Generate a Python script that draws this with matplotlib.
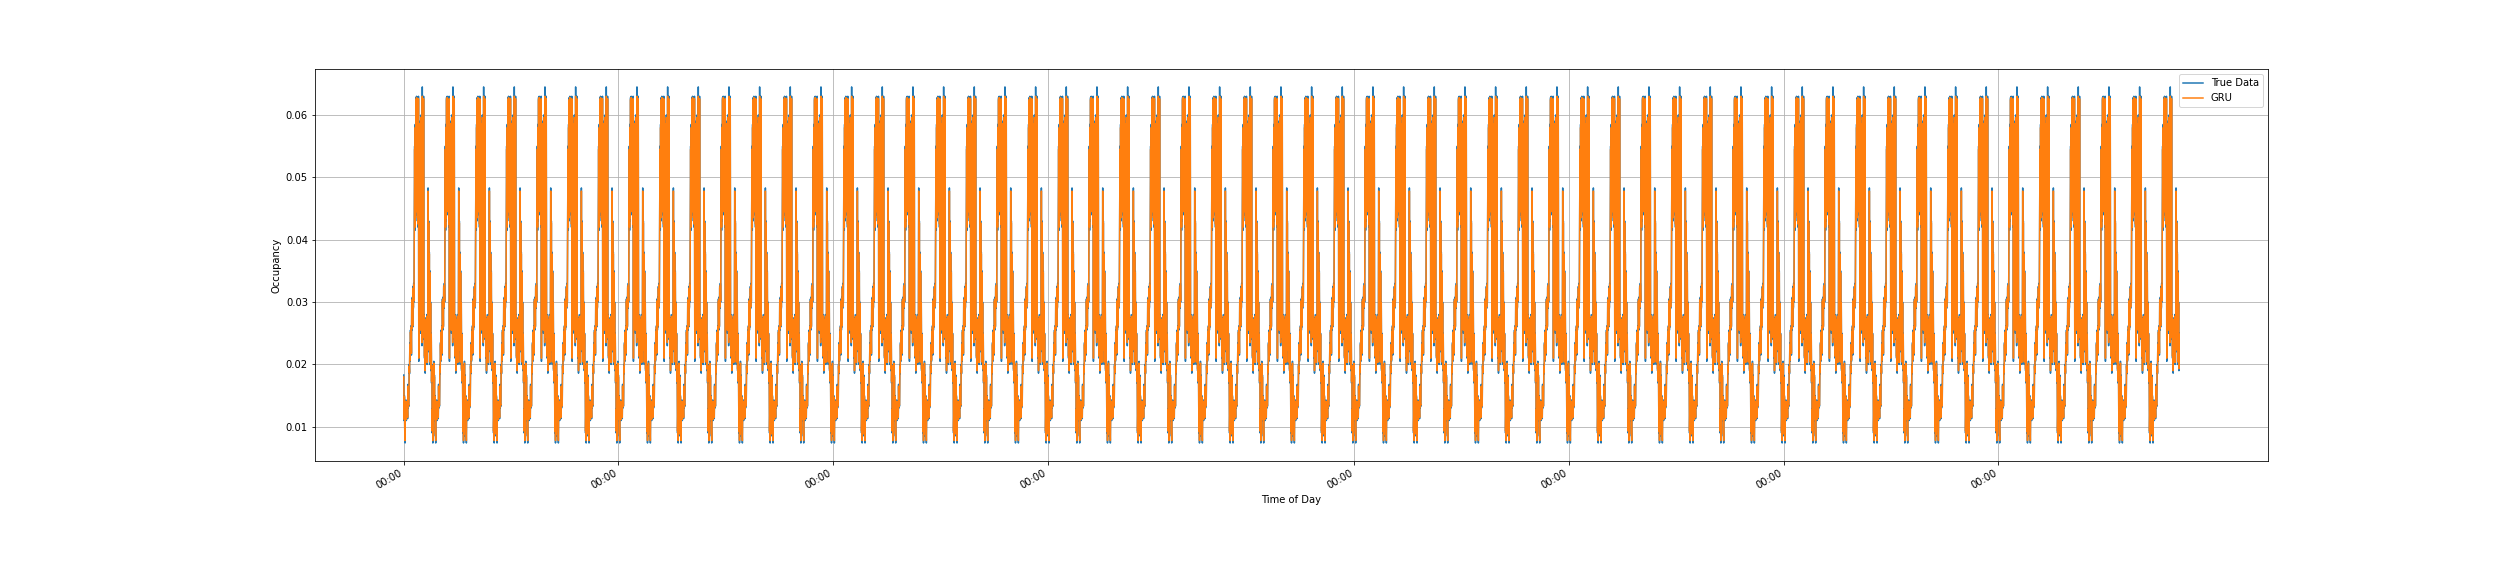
import numpy as np
import pandas as pd
import matplotlib
matplotlib.use('Agg')
import matplotlib.pyplot as plt
import matplotlib.dates as mdates

# one day of occupancy, 15-minute steps (00:00 ... 23:45)
true_day = [0.0183, 0.0110, 0.0150, 0.0095, 0.0074, 0.0140, 0.0112, 0.0143,
            0.0110, 0.0140, 0.0118, 0.0135, 0.0113, 0.0168, 0.0130, 0.0135,
            0.0133, 0.0200, 0.0185, 0.0235, 0.0205, 0.0255, 0.0225, 0.0262,
            0.0215, 0.0305, 0.0255, 0.0308, 0.0260, 0.0325, 0.0290, 0.0330,
            0.0300, 0.0420, 0.0550, 0.0415, 0.0585, 0.0430, 0.0628, 0.0440,
            0.0630, 0.0500, 0.0628, 0.0440, 0.0600, 0.0420, 0.0630, 0.0205,
            0.0560, 0.0430, 0.0590, 0.0440, 0.0550, 0.0250, 0.0600, 0.0420,
            0.0580, 0.0230, 0.0645, 0.0440, 0.0535, 0.0260, 0.0630, 0.0240,
            0.0280, 0.0210, 0.0275, 0.0186, 0.0270, 0.0215, 0.0260, 0.0230,
            0.0280, 0.0200, 0.0265, 0.0230, 0.0483, 0.0250, 0.0430, 0.0220,
            0.0380, 0.0200, 0.0350, 0.0210, 0.0300, 0.0190, 0.0250, 0.0170,
            0.0200, 0.0090, 0.0130, 0.0074, 0.0120, 0.0085, 0.0205, 0.0110]

gru_day = [0.0180, 0.0112, 0.0148, 0.0098, 0.0078, 0.0138, 0.0114, 0.0141,
           0.0112, 0.0138, 0.0120, 0.0134, 0.0115, 0.0165, 0.0132, 0.0136,
           0.0135, 0.0197, 0.0187, 0.0232, 0.0207, 0.0252, 0.0227, 0.0260,
           0.0218, 0.0302, 0.0258, 0.0305, 0.0262, 0.0322, 0.0292, 0.0327,
           0.0302, 0.0425, 0.0545, 0.0420, 0.0580, 0.0435, 0.0625, 0.0445,
           0.0628, 0.0505, 0.0625, 0.0445, 0.0597, 0.0425, 0.0626, 0.0210,
           0.0555, 0.0435, 0.0586, 0.0445, 0.0546, 0.0255, 0.0596, 0.0425,
           0.0576, 0.0235, 0.0630, 0.0445, 0.0530, 0.0263, 0.0626, 0.0243,
           0.0278, 0.0213, 0.0273, 0.0190, 0.0268, 0.0218, 0.0258, 0.0232,
           0.0277, 0.0203, 0.0263, 0.0232, 0.0478, 0.0253, 0.0427, 0.0223,
           0.0377, 0.0204, 0.0347, 0.0213, 0.0298, 0.0193, 0.0248, 0.0173,
           0.0198, 0.0093, 0.0128, 0.0078, 0.0118, 0.0088, 0.0202, 0.0112]

start_date = '2016-07-01 00:00'
n_days = 58
n_drop = 9   # series stops at 21:30 of the last day

true_data = np.tile(true_day, n_days)[:-n_drop]
gru_pred = np.tile(gru_day, n_days)[:-n_drop]
times = pd.date_range(start_date, periods=len(true_data), freq='15min')

fig, ax = plt.subplots(figsize=(35, 8), dpi=72)
ax.plot(times, true_data, label='True Data')
ax.plot(times, gru_pred, label='GRU')
ax.set_xlabel('Time of Day')
ax.set_ylabel('Occupancy')
ax.xaxis.set_major_formatter(mdates.DateFormatter('%H:%M'))
ax.legend(loc='upper right')
ax.grid(True)
fig.autofmt_xdate()
fig.savefig('out.png')
